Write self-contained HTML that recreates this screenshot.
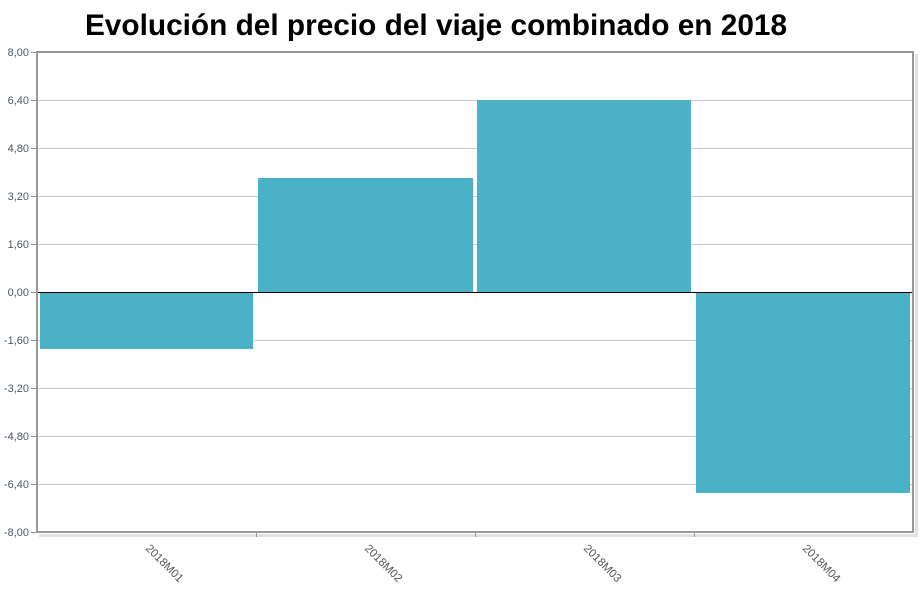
<!DOCTYPE html>
<html><head><meta charset="utf-8"><style>
body{margin:0;background:#fff;}
svg{display:block;font-family:"Liberation Sans",sans-serif;}
</style></head><body>
<svg width="920" height="602" viewBox="0 0 920 602">
<rect width="920" height="602" fill="#fff"/>
<text x="436" y="35" text-anchor="middle" font-size="29.8" font-weight="bold" fill="#000">Evolución del precio del viaje combinado en 2018</text>
<g stroke="#c8c8c8" stroke-width="1">
<line x1="37" x2="913" y1="100.5" y2="100.5"/>
<line x1="37" x2="913" y1="148.5" y2="148.5"/>
<line x1="37" x2="913" y1="196.5" y2="196.5"/>
<line x1="37" x2="913" y1="244.5" y2="244.5"/>
<line x1="37" x2="913" y1="340.5" y2="340.5"/>
<line x1="37" x2="913" y1="388.5" y2="388.5"/>
<line x1="37" x2="913" y1="436.5" y2="436.5"/>
<line x1="37" x2="913" y1="484.5" y2="484.5"/>
</g>
<g fill="#4bb1c6">
<rect x="40" y="292" width="213" height="57"/>
<rect x="258" y="178" width="215" height="114"/>
<rect x="477" y="100" width="214" height="192"/>
<rect x="696" y="292" width="214" height="201"/>
</g>
<line x1="37" x2="913" y1="292.5" y2="292.5" stroke="#000" stroke-width="1"/>
<rect x="915" y="54" width="3" height="481" fill="#e2e2e2"/>
<rect x="39" y="534" width="879" height="3" fill="#e2e2e2"/>
<rect x="37" y="52" width="876" height="480" fill="none" stroke="#999" stroke-width="2"/>
<g stroke="#999" stroke-width="1">
<line x1="31" x2="37" y1="52.5" y2="52.5"/><line x1="31" x2="37" y1="100.5" y2="100.5"/>
<line x1="31" x2="37" y1="148.5" y2="148.5"/><line x1="31" x2="37" y1="196.5" y2="196.5"/>
<line x1="31" x2="37" y1="244.5" y2="244.5"/><line x1="31" x2="37" y1="292.5" y2="292.5"/>
<line x1="31" x2="37" y1="340.5" y2="340.5"/><line x1="31" x2="37" y1="388.5" y2="388.5"/>
<line x1="31" x2="37" y1="436.5" y2="436.5"/><line x1="31" x2="37" y1="484.5" y2="484.5"/>
<line x1="31" x2="37" y1="532.5" y2="532.5"/>
<line x1="256.5" x2="256.5" y1="532" y2="537"/><line x1="475.5" x2="475.5" y1="532" y2="537"/>
<line x1="694.5" x2="694.5" y1="532" y2="537"/>
</g>
<g font-size="11" fill="#4a5563" text-anchor="end">
<text x="29" y="56">8,00</text><text x="29" y="104">6,40</text><text x="29" y="152">4,80</text>
<text x="29" y="200">3,20</text><text x="29" y="248">1,60</text><text x="29" y="296">0,00</text>
<text x="29" y="344">-1,60</text><text x="29" y="392">-3,20</text><text x="29" y="440">-4,80</text>
<text x="29" y="488">-6,40</text><text x="29" y="536">-8,00</text>
</g>
<g font-size="11.5" fill="#555">
<text transform="translate(145,549) rotate(45)">2018M01</text>
<text transform="translate(364,549) rotate(45)">2018M02</text>
<text transform="translate(583,549) rotate(45)">2018M03</text>
<text transform="translate(802,549) rotate(45)">2018M04</text>
</g>
</svg>
</body></html>
